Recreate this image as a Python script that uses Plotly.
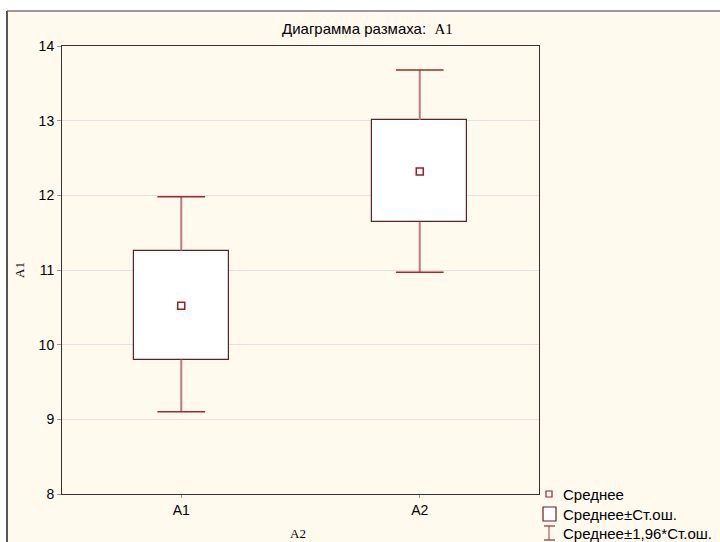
import plotly.graph_objects as go

categories = ["A1", "A2"]
means = [10.52, 12.32]
se_low = [9.80, 11.64]
se_high = [11.26, 13.01]
ci_low = [9.10, 10.97]
ci_high = [11.98, 13.68]
y_ticks = [8, 9, 10, 11, 12, 13, 14]

W, H = 720, 542
L, R, T, B = 62, 539, 46, 494

box_color = "#5A2326"
whisk_color = "#C0787C"
cap_color = "#9B2A2E"
mean_color = "#A01E22"

xs = list(range(len(categories)))
fig = go.Figure()

# boxes (mean ± SE)
fig.add_trace(go.Bar(
    x=xs, y=[h - l for h, l in zip(se_high, se_low)], base=se_low, width=0.4,
    marker=dict(color="white", line=dict(color=box_color, width=1.2)),
    showlegend=False, hoverinfo="skip"))

# whiskers
wx, wy = [], []
cx, cy = [], []
for i in xs:
    wx += [i, i, None, i, i, None]
    wy += [se_high[i], ci_high[i], None, se_low[i], ci_low[i], None]
    cx += [i - 0.1, i + 0.1, None, i - 0.1, i + 0.1, None]
    cy += [ci_high[i], ci_high[i], None, ci_low[i], ci_low[i], None]
fig.add_trace(go.Scatter(x=wx, y=wy, mode="lines", line=dict(color=whisk_color, width=2),
                         showlegend=False, hoverinfo="skip"))
fig.add_trace(go.Scatter(x=cx, y=cy, mode="lines", line=dict(color=cap_color, width=1.5),
                         showlegend=False, hoverinfo="skip"))
# means
fig.add_trace(go.Scatter(x=xs, y=means, mode="markers",
                         marker=dict(symbol="square-open", size=7, color=mean_color,
                                     line=dict(width=1.5)),
                         showlegend=False))

pw = R - L
ph = B - T
def px(x):
    return (x - L) / pw
def py(y):
    return (B - y) / ph

shapes = [
    # cream page frame
    dict(type="rect", xref="paper", yref="paper", x0=px(7), x1=px(W + 5), y0=py(H + 5), y1=py(11),
         fillcolor="#FFF9EE", line=dict(width=0), layer="below"),
    dict(type="line", xref="paper", yref="paper", x0=px(7), x1=px(W + 5), y0=py(11), y1=py(11),
         line=dict(color="#999999", width=2)),
    dict(type="line", xref="paper", yref="paper", x0=px(7), x1=px(7), y0=py(11), y1=py(H + 5),
         line=dict(color="#555555", width=2)),
    # legend symbols
    dict(type="rect", xref="paper", yref="paper", x0=px(546), x1=px(552), y0=py(497), y1=py(491),
         line=dict(color=mean_color, width=1.2), fillcolor="white"),
    dict(type="rect", xref="paper", yref="paper", x0=px(543), x1=px(556), y0=py(521), y1=py(507),
         line=dict(color=box_color, width=1.2), fillcolor="white"),
    dict(type="line", xref="paper", yref="paper", x0=px(549), x1=px(549), y0=py(526), y1=py(540),
         line=dict(color=whisk_color, width=1.5)),
    dict(type="line", xref="paper", yref="paper", x0=px(544), x1=px(555), y0=py(526), y1=py(526),
         line=dict(color=cap_color, width=1.2)),
    dict(type="line", xref="paper", yref="paper", x0=px(544), x1=px(555), y0=py(540), y1=py(540),
         line=dict(color=cap_color, width=1.2)),
]

legend_texts = ["Среднее", "Среднее±Ст.ош.", "Среднее±1,96*Ст.ош."]
legend_y = [494, 514, 533]
annotations = []
for t, yy in zip(legend_texts, legend_y):
    annotations.append(dict(text=t, xref="paper", yref="paper", x=px(561), y=py(yy),
                            xanchor="left", yanchor="middle", showarrow=False,
                            font=dict(family="Arial", size=15, color="black")))
annotations.append(dict(
    text="Диаграмма размаха:  <span style='font-family:Liberation Serif'>A1</span>",
    xref="paper", yref="paper", x=px(367), y=py(28), xanchor="center", yanchor="middle",
    showarrow=False, font=dict(family="Arial", size=15, color="black")))
annotations.append(dict(text="A1", xref="paper", yref="paper", x=px(19), y=py(270), textangle=-90,
                        xanchor="center", yanchor="middle", showarrow=False,
                        font=dict(family="Liberation Serif", size=13, color="black")))
annotations.append(dict(text="A2", xref="paper", yref="paper", x=px(298), y=py(533),
                        xanchor="center", yanchor="middle", showarrow=False,
                        font=dict(family="Liberation Serif", size=13, color="black")))

fig.update_layout(
    width=W, height=H,
    margin=dict(l=L, r=W - R, t=T, b=H - B),
    paper_bgcolor="white", plot_bgcolor="white",
    shapes=shapes, annotations=annotations,
    font=dict(family="Arial", size=14, color="black"),
    bargap=0,
    xaxis=dict(range=[-0.5, 1.5], tickvals=xs, ticktext=categories, showgrid=False,
               showline=True, linecolor="#333333", linewidth=1, mirror=True,
               ticks="outside", ticklen=3, tickcolor="#999999", zeroline=False),
    yaxis=dict(range=[8, 14], tickvals=y_ticks, showgrid=True, gridcolor="#E2E2E2",
               showline=True, linecolor="#333333", linewidth=1, mirror=True,
               ticks="outside", ticklen=4, tickcolor="#999999", zeroline=False),
)

fig.write_html("out.html", config={"displayModeBar": False},
               post_script="document.body.style.margin='0';")
